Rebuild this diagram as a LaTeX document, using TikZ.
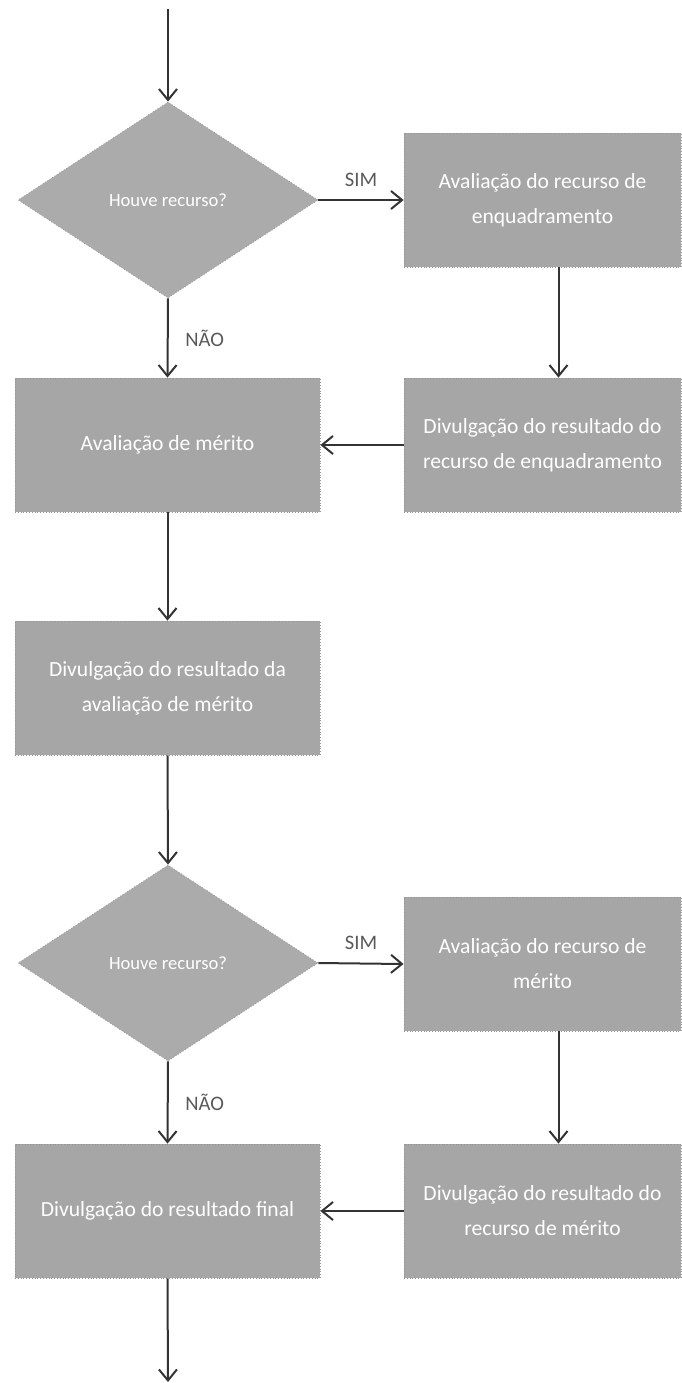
\documentclass[tikz,border=0pt]{standalone}
\usepackage{fontspec}
\setmainfont{Carlito}
\usepackage{tikz}
\usetikzlibrary{shapes.geometric,arrows.meta}

\tikzset{
  procbox/.style={rectangle, fill=black!35, draw=black!42, densely dotted,
    minimum height=67pt, inner sep=2pt, text=white, font=\fontsize{10.8}{17.5}\selectfont, align=center},
  askbox/.style={diamond, fill=black!33, draw=black!40, densely dotted, aspect=1.53,
    minimum width=150pt, minimum height=98pt, inner sep=0pt, text=white, font=\fontsize{9.3}{11}\selectfont},
  flow/.style={draw=black!80, line width=1pt, -{Straight Barb[length=5.5pt,width=9pt,line width=1pt]}},
  answer/.style={text=black!65, font=\fontsize{10.3}{12}\selectfont}
}

\begin{document}
\begin{tikzpicture}[x=0.5pt, y=-0.5pt]
			%%%%% START %%%%%
			\useasboundingbox (0, 0) rectangle (681, 1383);
			
			\coordinate (start) at (168, 9);
			\coordinate (stop) at (168, 1382);
			
			\node[askbox] (ask1) at (168, 200) {Houve recurso?};
			\node[procbox, minimum width=138.5pt] (recEnq) at (542.5, 200) {Avaliação do recurso de\\enquadramento};
			\node[procbox, minimum width=152.5pt] (merito) at (167.5, 445) {Avaliação de mérito};
			\node[procbox, minimum width=138.5pt] (divEnq) at (542.5, 445) {Divulgação do resultado do\\recurso de enquadramento};
			\node[procbox, minimum width=152.5pt] (divMer) at (167.5, 688) {Divulgação do resultado da\\avaliação de mérito};
			
			\node[askbox] (ask2) at (168, 963) {Houve recurso?};
			\node[procbox, minimum width=138.5pt] (recMer) at (542.5, 964) {Avaliação do recurso de\\mérito};
			\node[procbox, minimum width=152.5pt] (final) at (167.5, 1211) {Divulgação do resultado final};
			\node[procbox, minimum width=138.5pt] (divRec) at (542.5, 1211) {Divulgação do resultado do\\recurso de mérito};
			
			\draw[flow] (start) -- (ask1.north);
			\draw[flow] (ask1.east) -- node[answer, above=3pt] {SIM} (recEnq.west);
			\draw[flow] (ask1.south) -- node[answer, right=5pt] {NÃO} (merito.north);
			\draw[flow] ([xshift=8pt]recEnq.south) -- ([xshift=8pt]divEnq.north);
			\draw[flow] (divEnq.west) -- (merito.east);
			\draw[flow] (merito.south) -- (divMer.north);
			\draw[flow] (divMer.south) -- (ask2.north);
			
			\draw[flow] (ask2.east) -- node[answer, above=3pt] {SIM} (recMer.west);
			\draw[flow] (ask2.south) -- node[answer, right=5pt] {NÃO} (final.north);
			\draw[flow] ([xshift=8pt]recMer.south) -- ([xshift=8pt]divRec.north);
			\draw[flow] (divRec.west) -- (final.east);
			\draw[flow] (final.south) -- (stop);
			%%%%% END %%%%%
\end{tikzpicture}
\end{document}
